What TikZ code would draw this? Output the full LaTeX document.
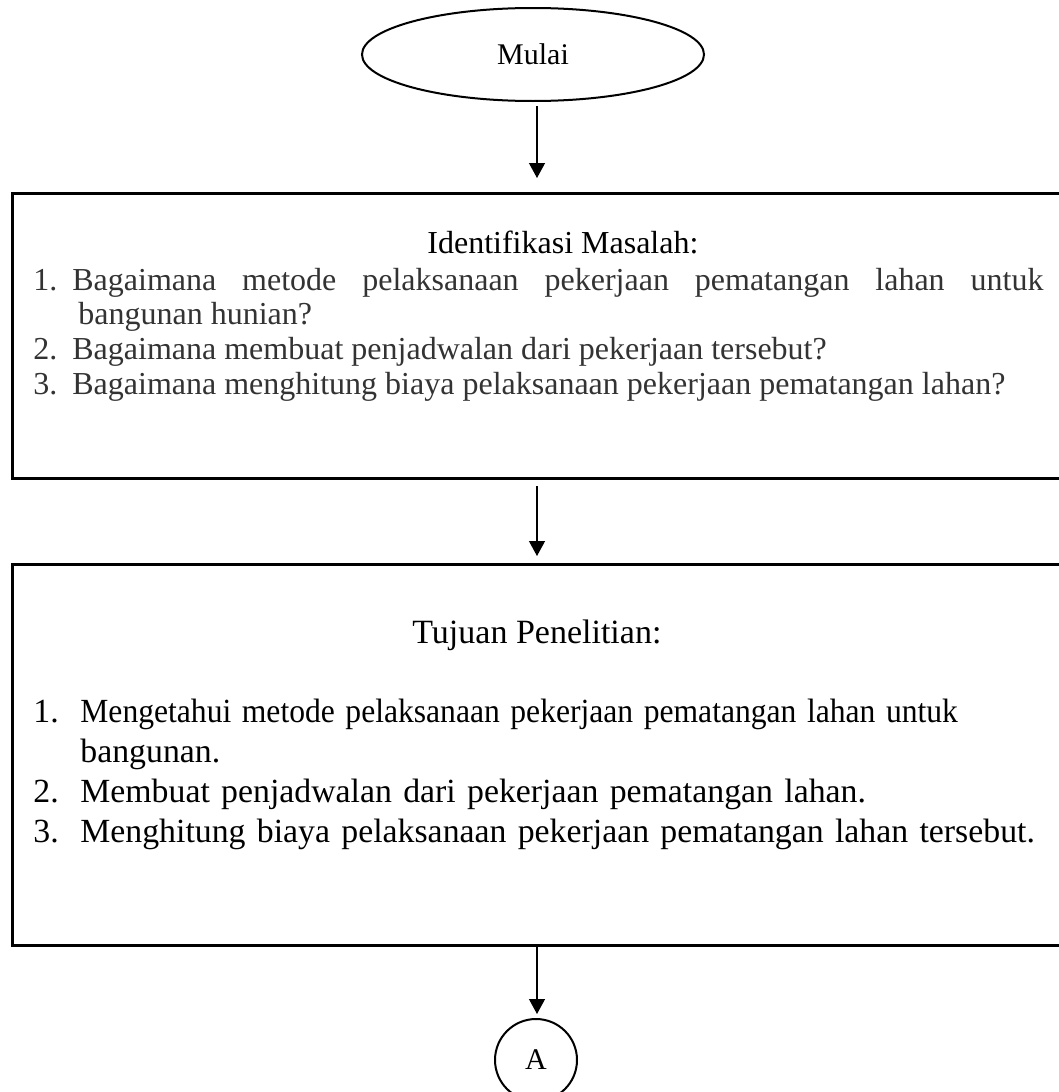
\documentclass[tikz,border=0pt]{standalone}
\usepackage{fontspec}
\usepackage{graphicx}
\setmainfont{Liberation Serif}
\usetikzlibrary{arrows.meta,shapes.geometric}
\definecolor{itemgray}{HTML}{333333}
\begin{document}
\begin{tikzpicture}[x=0.5pt,y=-0.5pt,
  terminal/.style={draw, ellipse, line width=1pt, minimum width=171pt, minimum height=46.5pt, inner sep=0pt, font=\fontsize{15}{18}\selectfont},
  connector/.style={draw, circle, line width=1pt, minimum size=41pt, inner sep=0pt, font=\fontsize{15}{18}\selectfont},
  flowbox/.style={draw, rectangle, line width=1.5pt, anchor=north west, inner sep=0pt, minimum width=534.5pt},
  link/.style={line width=0.6pt, -{Triangle[width=8pt,length=7.5pt]}},
  titletext/.style={anchor=base west, inner sep=0pt},
  listtext/.style={anchor=base west, inner sep=0pt, align=justify}]
\useasboundingbox (0,0) rectangle (1059,1092);

% column of the connectors
\coordinate (axis) at (537,0);

% shapes
\node[terminal] (start) at (533,54.5) {Mulai};
\node[flowbox, minimum height=142.5pt] (problem) at (11,192) {};
\node[flowbox, minimum height=190.5pt] (goal) at (11,563) {};
\node[connector] (conn) at (536,1060) {A};

% box texts
\node[titletext, font=\fontsize{16}{18}\selectfont] (ptitle) at (427,253) {Identifikasi Masalah:};
\node[listtext, text width=505pt, text=itemgray, font=\fontsize{16}{17.4}\selectfont] (plist) at (33,290) {%
  \hangindent=22.5pt\hangafter=1\noindent\makebox[19.5pt][l]{1.}Bagaimana metode pelaksanaan pekerjaan pematangan lahan untuk\linebreak bangunan hunian?\par
  \noindent\makebox[19.5pt][l]{2.}Bagaimana membuat penjadwalan dari pekerjaan tersebut?\par
  \noindent\makebox[19.5pt][l]{3.}Bagaimana menghitung biaya pelaksanaan pekerjaan pematangan lahan?\par};

\node[titletext, font=\fontsize{17}{20}\selectfont] (gtitle) at (412,643) {Tujuan Penelitian:};
\node[listtext, text width=505pt, align=left, font=\fontsize{16.9}{20}\selectfont] (glist) at (33,722) {%
  \makebox[23.5pt][l]{1.}\scalebox{0.935}[1]{Mengetahui metode pelaksanaan pekerjaan pematangan lahan untuk}\\
  \hspace*{23.5pt}bangunan.\\
  \makebox[23.5pt][l]{2.}Membuat penjadwalan dari pekerjaan pematangan lahan.\\
  \makebox[23.5pt][l]{3.}Menghitung biaya pelaksanaan pekerjaan pematangan lahan tersebut.};

% connectors
\draw[link, shorten <=2pt, shorten >=7pt] (start.south -| axis) -- (problem.north -| axis);
\draw[link, shorten <=3pt, shorten >=3.5pt] (problem.south -| axis) -- (goal.north -| axis);
\draw[link, shorten >=2pt] (goal.south -| axis) -- (conn.north -| axis);
\end{tikzpicture}
\end{document}
